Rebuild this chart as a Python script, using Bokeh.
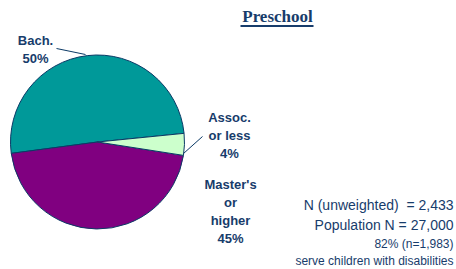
import math
from bokeh.plotting import figure
from bokeh.models import Range1d, ColumnDataSource
from bokeh.core.properties import value
from bokeh.embed import file_html
from bokeh.resources import INLINE

# ---- data ----
categories = ["Bach.", "Assoc.|or less", "Master's|or|higher"]
values = [50, 4, 45]
colors = ["#009999", "#CCFFCC", "#800080"]
title_text = "Preschool"
note_lines = ["N (unweighted)\u00a0 = 2,433", "Population N = 27,000"]
small_lines = ["82% (n=1,983)", "serve children with disabilities"]

W, H = 456, 269
p = figure(width=W, height=H, output_backend="svg", toolbar_location=None,
           x_range=Range1d(0, W), y_range=Range1d(0, H), min_border=0)
p.axis.visible = False
p.grid.visible = False
p.outline_line_color = None
p.background_fill_color = "white"

def px(x):  # page x -> data x
    return x
def py(y):  # page y -> data y
    return H - y

navy = "#173C6B"

# pie
cx, cy, r = px(97), py(141.5), 87
total = sum(values)
start0 = math.radians(5.7)
order = [0, 2, 1]
starts, ends, cols = [], [], []
a = start0
for i in order:
    span = values[i] / total * 2 * math.pi
    starts.append(a)
    ends.append(a + span)
    cols.append(colors[i])
    a += span
src = ColumnDataSource(dict(x=[cx] * 3, y=[cy] * 3, s=starts, e=ends, c=cols))
p.wedge(x="x", y="y", radius=r, start_angle="s", end_angle="e", fill_color="c",
        line_color="#0B3A66", line_width=1, source=src)

# leader lines
p.segment(x0=[px(56), px(183)], y0=[py(48), py(153)],
          x1=[px(85), px(202)], y1=[py(54), py(136)],
          line_color="#0B3A66", line_width=1)

# category labels
label_pos = [(35, 40), (229, 117), (230, 184)]
lx, ly, lt = [], [], []
for cat, v, (x, y) in zip(categories, values, label_pos):
    lines = cat.split("|") + [f"{v}%"]
    for k, t in enumerate(lines):
        lx.append(px(x))
        ly.append(py(y + k * 18))
        lt.append(t)
p.text(x=lx, y=ly, text=lt, text_align="center", text_baseline="middle",
       text_font=value("Liberation Sans"), text_font_style="bold",
       text_font_size="13px", text_color=navy)

# title
p.text(x=[px(277)], y=[py(15.5)], text=[title_text], text_align="center",
       text_baseline="middle", text_font=value("Liberation Serif"),
       text_font_style="bold", text_font_size="17px", text_color=navy)
p.segment(x0=[px(240)], y0=[py(25.5)], x1=[px(313)], y1=[py(25.5)],
          line_color=navy, line_width=2)

# notes
p.text(x=[px(453)] * 2, y=[py(204), py(224)], text=note_lines, text_align="right",
       text_baseline="middle", text_font=value("Liberation Sans"),
       text_font_size="14px", text_color=navy)
p.text(x=[px(453)] * 2, y=[py(243), py(260)], text=small_lines, text_align="right",
       text_baseline="middle", text_font=value("Liberation Sans"),
       text_font_size="12px", text_color=navy)

open("out.html", "w").write(file_html(p, INLINE))
